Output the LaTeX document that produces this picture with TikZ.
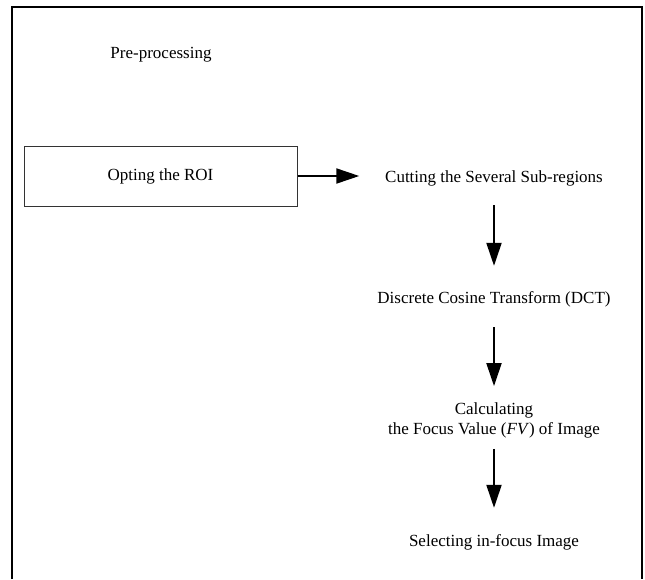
\documentclass[tikz,border=0pt]{standalone}
\usepackage{fontspec}
\setmainfont{Liberation Serif}
\usepackage{tikz}
\usetikzlibrary{arrows.meta,positioning}

\begin{document}
\begin{tikzpicture}[
    x=1pt, y=-1pt,
    stage/.style={font=\fontsize{17}{20}\selectfont, align=center, inner sep=0pt},
    oneline/.style={stage, text height=12pt, text depth=4pt, anchor=base},
    roibox/.style={stage, draw=black!80, line width=1pt, minimum width=273pt, minimum height=60pt},
    flow/.style={-{Triangle[width=15pt,length=23pt]}, line width=2pt}
]
\useasboundingbox (0,0) rectangle (645,579);

% Frame (open at the bottom)
\draw[line width=2.3pt] (12.3,579) -- (12.3,6.7) -- (642.3,6.7) -- (642.3,579);

% Title
\node[stage] (pre) at (161,55) {Pre-processing};

% Stages
\node[roibox] (roi) at (160.5,176) {Opting the ROI};
\node[oneline] (cut) at (494,182) {Cutting the Several Sub-regions};
\node[oneline] (dct) at (494,303) {Discrete Cosine Transform (DCT)};
\node[stage] (fv) at (494,420) {Calculating\\the Focus Value (\textit{FV}) of Image};
\node[oneline] (sel) at (494,546) {Selecting in-focus Image};

% Connections
\draw[flow, shorten >=25.7pt] (roi.east) -- (roi.east -| cut.west);
\draw[flow, shorten <=19pt, shorten >=25pt] (cut.south) -- (dct.north);
\draw[flow, shorten <=20pt, shorten >=16pt] (dct.south) -- (fv.north);
\draw[flow, shorten <=11pt, shorten >=26pt] (fv.south) -- (sel.north);

\end{tikzpicture}
\end{document}
